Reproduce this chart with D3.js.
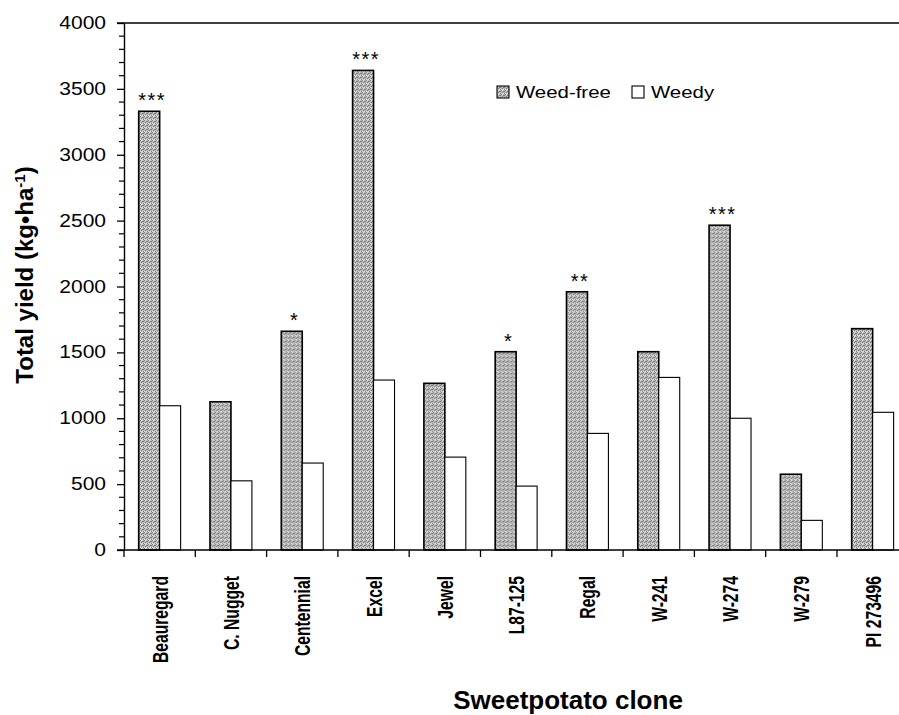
<!DOCTYPE html>
<html>
<head>
<meta charset="utf-8">
<title>Sweetpotato yield</title>
<script src="https://cdn.jsdelivr.net/npm/d3@7"></script>
<style>
  body { margin: 0; background: #fff; }
  svg { display: block; font-family: "Liberation Sans", Arial, sans-serif; }
</style>
</head>
<body>
<div id="chart"></div>
<script>
// data
const clones = ["Beauregard", "C. Nugget", "Centennial", "Excel", "Jewel", "L87-125", "Regal", "W-241", "W-274", "W-279", "PI 273496"];
const weedFree = [3330, 1125, 1660, 3640, 1265, 1505, 1960, 1505, 2465, 575, 1680];
const weedy = [1095, 525, 660, 1290, 705, 485, 885, 1310, 1000, 225, 1045];
const signif = ["***", "", "*", "***", "", "*", "**", "", "***", "", ""];
const series = ["Weed-free", "Weedy"];
const yTicks = [0, 500, 1000, 1500, 2000, 2500, 3000, 3500, 4000];

const W = 899, H = 715;
const plotLeft = 124, plotTop = 23, plotBottom = 550;
const stretch = 1.2; // the scan is a bit wider than tall, text looks stretched

const svg = d3.select("#chart").append("svg")
    .attr("width", W).attr("height", H);

// stipple pattern for the weed-free bars
const defs = svg.append("defs");
const pat = defs.append("pattern")
    .attr("id", "stipple")
    .attr("patternUnits", "userSpaceOnUse")
    .attr("width", 4).attr("height", 4);
pat.append("rect").attr("width", 4).attr("height", 4).attr("fill", "#bdbdbd");
[[0, 0], [2, 1], [1, 2], [3, 3], [3, 1]].forEach(p => {
    pat.append("rect").attr("x", p[0]).attr("y", p[1]).attr("width", 1).attr("height", 1).attr("fill", "#7a7a7a");
});
[[1, 0], [0, 3], [2, 3]].forEach(p => {
    pat.append("rect").attr("x", p[0]).attr("y", p[1]).attr("width", 1).attr("height", 1).attr("fill", "#e6e6e6");
});

const x = d3.scaleBand()
    .domain(clones)
    .range([plotLeft, plotLeft + 11 * 71.3])
    .padding(0);

const xs = d3.scaleBand()
    .domain(series)
    .range([0, x.bandwidth()])
    .paddingInner(0)
    .paddingOuter(0.7);

const y = d3.scaleLinear()
    .domain([0, 4000])
    .range([plotBottom, plotTop]);

const rows = clones.map((c, i) => ({ clone: c, vals: [weedFree[i], weedy[i]], sig: signif[i] }));

// bars
const grp = svg.append("g").selectAll("g")
    .data(rows).enter().append("g")
    .attr("transform", d => "translate(" + x(d.clone) + ",0)");

grp.selectAll("rect")
    .data(d => d.vals.map((v, j) => ({ key: series[j], v: v })))
    .enter().append("rect")
    .attr("x", d => xs(d.key))
    .attr("y", d => y(d.v))
    .attr("width", xs.bandwidth())
    .attr("height", d => plotBottom - y(d.v))
    .attr("fill", d => d.key === "Weed-free" ? "url(#stipple)" : "#fff")
    .attr("stroke", "#000")
    .attr("stroke-width", d => d.key === "Weed-free" ? 1.6 : 1.1);

// significance stars
grp.append("text")
    .attr("x", xs("Weed-free") + xs.bandwidth() / 2 + 3)
    .attr("y", d => y(d.vals[0]) - 4)
    .attr("text-anchor", "middle")
    .attr("font-size", 20)
    .attr("letter-spacing", 1.5)
    .text(d => d.sig);

// y axis
const yAxis = d3.axisLeft(y).tickValues(yTicks).tickFormat(d3.format("d"))
    .tickSize(7).tickSizeOuter(0).tickPadding(11);
const ya = svg.append("g").attr("transform", "translate(" + plotLeft + ",0)").call(yAxis);
ya.select(".domain").attr("stroke", "#000").attr("stroke-width", 1.4);
ya.selectAll(".tick line").attr("stroke-width", 1.3);
ya.selectAll("text")
    .attr("font-size", 17.5).attr("fill", "#000")
    .attr("font-family", "'Liberation Sans', Arial, sans-serif")
    .attr("x", -18 / stretch)
    .attr("transform", "scale(" + stretch + ",1)");

const minor = d3.range(0, 4001, 100).filter(v => v % 500 !== 0);
svg.append("g").selectAll("line").data(minor).enter().append("line")
    .attr("x1", plotLeft - 5).attr("x2", plotLeft)
    .attr("y1", d => y(d)).attr("y2", d => y(d))
    .attr("stroke", "#000").attr("stroke-width", 1.2);

// top frame line
svg.append("line")
    .attr("x1", plotLeft - 7).attr("x2", W)
    .attr("y1", y(4000)).attr("y2", y(4000))
    .attr("stroke", "#000").attr("stroke-width", 1.4);

// x axis
svg.append("line")
    .attr("x1", plotLeft - 7).attr("x2", W)
    .attr("y1", plotBottom).attr("y2", plotBottom)
    .attr("stroke", "#000").attr("stroke-width", 1.4);

svg.append("g").selectAll("line")
    .data(clones).enter().append("line")
    .attr("x1", d => x(d)).attr("x2", d => x(d))
    .attr("y1", plotBottom).attr("y2", plotBottom + 7)
    .attr("stroke", "#000").attr("stroke-width", 1.3);

svg.append("g").selectAll("text")
    .data(clones).enter().append("text")
    .attr("transform", d => "translate(" + (x(d) + x.bandwidth() / 2 + 8) + "," + 576 + ") rotate(-90) scale(0.95,1.32)")
    .attr("text-anchor", "end")
    .attr("font-size", 16.5)
    .attr("font-weight", "bold")
    .text(d => d);

// axis titles
svg.append("text")
    .attr("x", 568).attr("y", 709)
    .attr("text-anchor", "middle")
    .attr("font-size", 26)
    .attr("font-weight", "bold")
    .text("Sweetpotato clone");

const yt = svg.append("text")
    .attr("transform", "translate(33,275) rotate(-90)")
    .attr("text-anchor", "middle")
    .attr("font-size", 24)
    .attr("font-weight", "bold");
yt.append("tspan").text("Total yield (kg\u2022ha");
yt.append("tspan").attr("font-size", 15).attr("baseline-shift", "super").text("-1");
yt.append("tspan").text(")");

// legend
const leg = svg.append("g").attr("transform", "translate(497,86)");
series.forEach((s, i) => {
    const g = leg.append("g").attr("transform", "translate(" + (i * 135) + ",0)");
    g.append("rect").attr("width", 12).attr("height", 12)
        .attr("fill", i === 0 ? "url(#stipple)" : "#fff")
        .attr("stroke", "#000").attr("stroke-width", 1.1);
    g.append("text")
        .attr("transform", "translate(19,12) scale(" + stretch + ",1)")
        .attr("font-size", 17).text(s);
});
</script>
</body>
</html>
